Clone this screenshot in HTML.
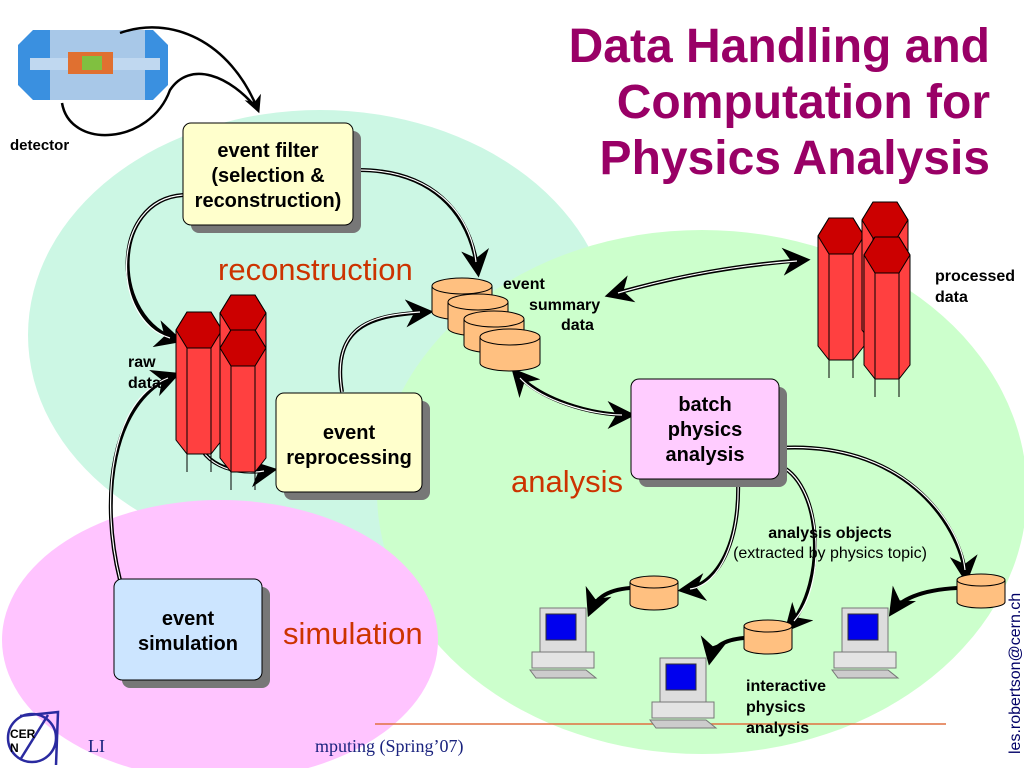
<!DOCTYPE html>
<html><head><meta charset="utf-8"><style>
body{margin:0;width:1024px;height:768px;overflow:hidden;background:#fff;font-family:"Liberation Sans",sans-serif}
</style></head><body>
<svg width="1024" height="768" viewBox="0 0 1024 768" xmlns="http://www.w3.org/2000/svg" font-family="Liberation Sans, sans-serif">
<defs>
<marker id="ah" viewBox="0 0 10 10" refX="8" refY="5" markerWidth="7" markerHeight="7" orient="auto-start-reverse"><path d="M0,0 L10,5 L0,10 L3,5z" fill="#000"/></marker>
<g id="cyl"><path d="M0,8 v26 a30,8 0 0 0 60,0 v-26" fill="#ffc080" stroke="#000"/><ellipse cx="30" cy="8" rx="30" ry="8" fill="#ffc080" stroke="#000"/></g>
<g id="scyl"><path d="M0,6 v22 a24,6 0 0 0 48,0 v-22" fill="#ffc080" stroke="#000"/><ellipse cx="24" cy="6" rx="24" ry="6" fill="#ffc080" stroke="#000"/></g>
<g id="col"><path d="M0,0 l11,-18 h24 l11,18 v110 l-11,14 h-24 l-11,-14z" fill="#ff4040" stroke="#000"/><path d="M0,0 l11,18 h24 l11,-18 l-11,-18 h-24z" fill="#cc0000" stroke="#000"/><line x1="11" y1="18" x2="11" y2="142" stroke="#000"/><line x1="35" y1="18" x2="35" y2="142" stroke="#000"/></g>
<g id="pc"><rect x="12" y="0" width="46" height="44" fill="#ddd" stroke="#777"/><rect x="18" y="6" width="30" height="26" fill="#0000ee" stroke="#333"/><rect x="4" y="44" width="62" height="16" fill="#e4e4e4" stroke="#777"/><path d="M2,62 h56 l10,8 h-60z" fill="#ccc" stroke="#777"/></g>
</defs>
<ellipse cx="320" cy="335" rx="292" ry="225" fill="#ccf7e4"/>
<ellipse cx="702" cy="492" rx="325" ry="262" fill="#ccffcc"/>
<ellipse cx="220" cy="640" rx="218" ry="140" fill="#ffc4ff"/>
<line x1="375" y1="724" x2="946" y2="724" stroke="#e07040" stroke-width="1.5"/>
<text x="88" y="752" font-size="18" font-family="Liberation Serif, serif" fill="#1a237e">LI</text>
<text x="315" y="752" font-size="18" font-family="Liberation Serif, serif" fill="#1a237e">mputing (Spring’07)</text>
<g>
<path d="M18,45 l15,-15 h20 v70 h-20 l-15,-15z" fill="#3a90e0"/>
<path d="M168,45 l-15,-15 h-20 v70 h20 l15,-15z" fill="#3a90e0"/>
<rect x="50" y="30" width="95" height="70" fill="#a8c8e8"/>
<rect x="30" y="58" width="130" height="12" fill="#c0d8f0"/>
<rect x="68" y="52" width="45" height="22" fill="#e07030"/>
<rect x="82" y="56" width="20" height="14" fill="#80c040"/>
</g>
<text x="10" y="150" font-size="15" font-weight="bold">detector</text>
<g fill="none" stroke="#000" stroke-width="2.5">
<path d="M120,33 C170,15 230,40 258,110" marker-end="url(#ah)"/>
<path d="M62,103 C70,150 150,145 170,90 C190,60 230,75 258,110"/>
</g>
<g fill="none" stroke="#000" stroke-width="4">
<path d="M358,170 C430,170 470,210 478,272" marker-end="url(#ah)"/>
<path d="M183,195 C110,200 110,320 178,340" marker-end="url(#ah)"/>
<path d="M195,435 C205,470 240,475 272,470" marker-end="url(#ah)"/>
<path d="M342,392 C330,320 380,315 428,312" marker-end="url(#ah)"/>
<path d="M120,580 C100,500 110,400 175,375" marker-end="url(#ah)"/>
<path d="M610,295 C680,275 740,265 805,260" marker-start="url(#ah)" marker-end="url(#ah)"/>
<path d="M515,372 C540,400 590,415 630,415" marker-start="url(#ah)" marker-end="url(#ah)"/>
<path d="M738,480 C740,540 720,585 683,590" marker-end="url(#ah)"/>
<path d="M630,588 C605,590 595,600 590,612" marker-end="url(#ah)"/>
<path d="M778,465 C820,480 830,580 788,628" marker-end="url(#ah)"/>
<path d="M744,638 C720,640 712,650 710,660" marker-end="url(#ah)"/>
<path d="M778,448 C900,440 960,520 966,578" marker-end="url(#ah)"/>
<path d="M957,588 C920,590 900,600 892,612" marker-end="url(#ah)"/>
</g>
<g fill="none" stroke="#fff" stroke-width="1.2">
<path d="M358,170 C430,170 470,210 476,262"/>
<path d="M183,195 C110,200 110,320 170,338"/>
<path d="M195,435 C205,470 240,475 264,471"/>
<path d="M342,392 C330,320 380,315 420,312"/>
<path d="M120,580 C100,500 110,400 168,378"/>
<path d="M618,293 C680,275 740,265 797,261"/>
<path d="M520,378 C540,400 590,415 622,415"/>
<path d="M738,480 C740,540 720,585 690,589"/>
<path d="M778,465 C820,480 830,580 794,621"/>
<path d="M778,448 C900,440 960,520 965,570"/>
</g>
<rect x="191" y="131" width="170" height="102" rx="8" fill="#777"/>
<rect x="183" y="123" width="170" height="102" rx="8" fill="#ffffcc" stroke="#000"/>
<text font-size="20" font-weight="bold" text-anchor="middle"><tspan x="268" y="157">event filter</tspan><tspan x="268" y="182">(selection &amp;</tspan><tspan x="268" y="207">reconstruction)</tspan></text>
<rect x="284" y="401" width="146" height="99" rx="8" fill="#777"/>
<rect x="276" y="393" width="146" height="99" rx="8" fill="#ffffcc" stroke="#000"/>
<text font-size="20" font-weight="bold" text-anchor="middle"><tspan x="349" y="439">event</tspan><tspan x="349" y="464">reprocessing</tspan></text>
<rect x="122" y="587" width="148" height="101" rx="8" fill="#777"/>
<rect x="114" y="579" width="148" height="101" rx="8" fill="#cce5ff" stroke="#000"/>
<text font-size="20" font-weight="bold" text-anchor="middle"><tspan x="188" y="625">event</tspan><tspan x="188" y="650">simulation</tspan></text>
<rect x="639" y="387" width="148" height="100" rx="8" fill="#777"/>
<rect x="631" y="379" width="148" height="100" rx="8" fill="#ffccff" stroke="#000"/>
<text font-size="20" font-weight="bold" text-anchor="middle"><tspan x="705" y="411">batch</tspan><tspan x="705" y="436">physics</tspan><tspan x="705" y="461">analysis</tspan></text>
<use href="#cyl" x="432" y="278"/><use href="#cyl" x="448" y="294"/><use href="#cyl" x="464" y="311"/><use href="#cyl" x="480" y="329"/>
<use href="#scyl" x="630" y="576"/><use href="#scyl" x="744" y="620"/><use href="#scyl" x="957" y="574"/>
<use href="#col" x="176" y="330"/><use href="#col" x="220" y="313"/><use href="#col" x="220" y="348"/>
<use href="#col" x="818" y="236"/><use href="#col" x="862" y="220"/><use href="#col" x="864" y="255"/>
<use href="#pc" x="528" y="608"/><use href="#pc" x="648" y="658"/><use href="#pc" x="830" y="608"/>
<text x="990" y="62" font-size="48" font-weight="bold" fill="#990066" text-anchor="end">Data Handling and</text>
<text x="990" y="118" font-size="48" font-weight="bold" fill="#990066" text-anchor="end">Computation for</text>
<text x="990" y="174" font-size="48" font-weight="bold" fill="#990066" text-anchor="end">Physics Analysis</text>
<text x="218" y="280" font-size="31" fill="#cc3300">reconstruction</text>
<text x="511" y="492" font-size="31" fill="#cc3300">analysis</text>
<text x="283" y="644" font-size="31" fill="#cc3300">simulation</text>
<text font-size="16" font-weight="bold"><tspan x="503" y="289">event</tspan><tspan x="529" y="310">summary</tspan><tspan x="561" y="330">data</tspan></text>
<text font-size="16" font-weight="bold"><tspan x="935" y="281">processed</tspan><tspan x="935" y="302">data</tspan></text>
<text font-size="16" font-weight="bold"><tspan x="128" y="367">raw</tspan><tspan x="128" y="388">data</tspan></text>
<text x="830" y="538" font-size="16" font-weight="bold" text-anchor="middle">analysis objects</text>
<text x="830" y="558" font-size="16" text-anchor="middle">(extracted by physics topic)</text>
<text font-size="16" font-weight="bold"><tspan x="746" y="691">interactive</tspan><tspan x="746" y="712">physics</tspan><tspan x="746" y="733">analysis</tspan></text>
<text x="1020" y="754" font-size="16" fill="#000066" transform="rotate(-90 1020 754)">les.robertson@cern.ch</text>
<g fill="none" stroke="#2a2aa0" stroke-width="2.5"><circle cx="32" cy="738" r="24"/><path d="M20,716 L58,712 L56,765 M20,760 L48,715"/></g>
<text x="10" y="738" font-size="12" font-weight="bold">CER</text>
<text x="10" y="752" font-size="12" font-weight="bold">N</text>
</svg>
</body></html>
